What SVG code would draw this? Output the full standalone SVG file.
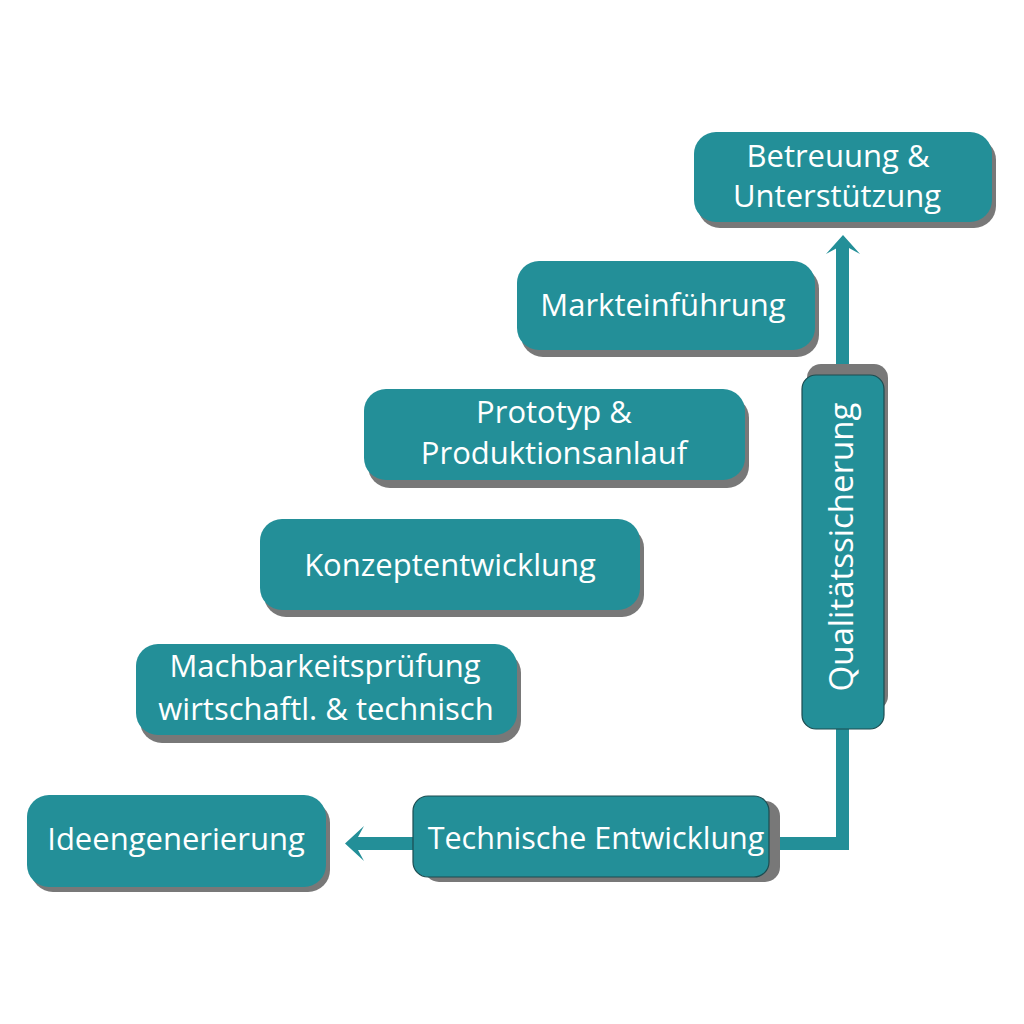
<svg xmlns="http://www.w3.org/2000/svg" width="1024" height="1024" viewBox="0 0 1024 1024">
<style>
.sh{fill:#787878}
.bx{fill:#238f98}
.bd{fill:#238f98;stroke:#1c4c50;stroke-width:1.2}
.t{font-family:"Open Sans","Liberation Sans",sans-serif;font-size:31px;fill:#ffffff;text-anchor:middle}
.c{fill:none;stroke:#238f98;stroke-width:13;stroke-linejoin:miter}
.a{fill:#238f98}
</style>
<rect width="1024" height="1024" fill="#ffffff"/>
<g id="connectors">
<path class="c" d="M765 843.5 H842.5 V725"/>
<path class="c" d="M842.5 370 V246"/>
<polygon class="a" points="843,235 860,254 849,248 837,248 826,254"/>
<polygon class="a" points="345,843.5 364,826 358,837 416,837 416,850 358,850 364,861"/>
</g>
<g id="betreuung">
<rect class="sh" x="698" y="138" width="298" height="90" rx="22"/>
<rect class="bx" x="694" y="132" width="298" height="90" rx="22"/>
<text class="t" x="838" y="167">Betreuung &amp;</text>
<text class="t" x="837" y="207">Unterstützung</text>
</g>
<g id="markteinfuehrung">
<rect class="sh" x="521" y="267" width="298" height="90" rx="22"/>
<rect class="bx" x="517" y="261" width="298" height="89" rx="22"/>
<text class="t" x="663" y="316">Markteinführung</text>
</g>
<g id="prototyp">
<rect class="sh" x="368" y="396" width="381" height="92" rx="22"/>
<rect class="bx" x="364" y="389" width="381" height="91" rx="22"/>
<text class="t" x="554" y="423">Prototyp &amp;</text>
<text class="t" x="554" y="464">Produktionsanlauf</text>
</g>
<g id="konzept">
<rect class="sh" x="264" y="526" width="380" height="91" rx="22"/>
<rect class="bx" x="260" y="519" width="380" height="91" rx="22"/>
<text class="t" x="450" y="576">Konzeptentwicklung</text>
</g>
<g id="machbarkeit">
<rect class="sh" x="140" y="651" width="381" height="92" rx="22"/>
<rect class="bx" x="136" y="644" width="381" height="91" rx="22"/>
<text class="t" x="325" y="677">Machbarkeitsprüfung</text>
<text class="t" x="326" y="720">wirtschaftl. &amp; technisch</text>
</g>
<g id="ideengenerierung">
<rect class="sh" x="31" y="801" width="299" height="91" rx="22"/>
<rect class="bx" x="27" y="795" width="299" height="92" rx="22"/>
<text class="t" x="176" y="850">Ideengenerierung</text>
</g>
<g id="technische-entwicklung">
<rect class="sh" x="424" y="801" width="356" height="81" rx="15"/>
<rect class="bd" x="413" y="796" width="356" height="81" rx="15"/>
<text class="t" style="font-size:30.5px" x="596" y="849">Technische Entwicklung</text>
</g>
<g id="qualitaetssicherung">
<rect class="sh" x="807" y="364" width="81" height="346" rx="14"/>
<rect class="bd" x="802" y="375" width="82" height="354" rx="14"/>
<text class="t" style="font-size:33px" transform="translate(853 547) rotate(-90)" x="0" y="0">Qualitätssicherung</text>
</g>
</svg>
